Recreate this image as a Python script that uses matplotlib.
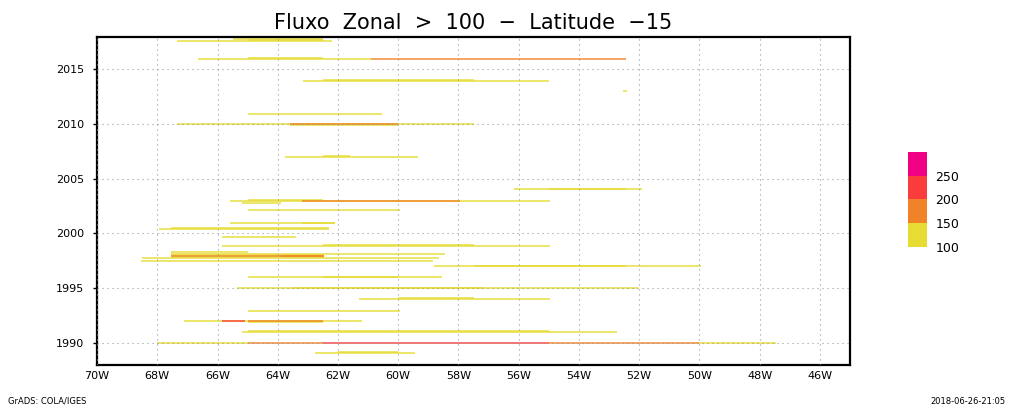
import numpy as np
import matplotlib as mpl
import matplotlib.pyplot as plt
from matplotlib.colors import ListedColormap, BoundaryNorm

# shading levels (GrADS default colours 12, 8, 2, 6)
levels = [100, 150, 200, 250, 300]
level_colors = ['#e6dc32', '#f08228', '#fa3c3c', '#f00082']

# segments where zonal flux > 100: time (decimal year), lon start, lon end, value
seg_year = [2017.68, 2017.61, 2017.55,
            2015.95, 2015.91, 2015.91,
            2013.95, 2013.91, 2013.0,
            2010.91,
            2009.98, 2009.95, 2009.91,
            2007.05, 2007.0,
            2004.03, 2004.0,
            2003.03, 2002.95, 2002.95, 2002.8,
            2002.09,
            2000.95, 2000.91,
            2000.45, 2000.41,
            1999.66,
            1998.9, 1998.86,
            1998.27, 1998.09, 1998.0, 1997.91, 1997.91, 1997.82, 1997.73, 1997.45,
            1997.03, 1997.0,
            1996.06, 1996.03,
            1995.03, 1995.0,
            1994.1, 1994.06,
            1992.95,
            1992.05, 1992.0, 1992.0, 1991.95,
            1991.06, 1991.03,
            1989.97, 1989.97, 1989.97, 1989.97, 1989.97,
            1989.15, 1989.12]
seg_lon0 = [-65.5, -65.0, -67.35,
            -65.0, -66.65, -60.9,
            -62.5, -63.15, -52.55,
            -65.0,
            -63.6, -67.35, -63.6,
            -62.5, -63.75,
            -55.0, -56.15,
            -65.0, -65.6, -63.2, -65.2,
            -65.0,
            -63.2, -65.6,
            -67.55, -67.95,
            -65.85,
            -62.5, -65.85,
            -67.55, -67.55, -67.55, -67.55, -63.9, -67.55, -68.5, -68.55,
            -57.5, -58.8,
            -62.5, -65.0,
            -63.5, -65.35,
            -60.0, -61.3,
            -65.0,
            -65.0, -67.1, -65.85, -65.0,
            -65.0, -65.2,
            -68.0, -65.0, -62.5, -55.0, -50.0,
            -62.0, -62.75]
seg_lon1 = [-62.5, -62.5, -62.2,
            -62.5, -60.9, -52.45,
            -57.5, -55.0, -52.4,
            -60.55,
            -60.0, -57.5, -60.0,
            -61.6, -59.35,
            -52.45, -51.9,
            -62.5, -54.95, -57.95, -63.9,
            -59.95,
            -62.1, -62.1,
            -62.3, -62.3,
            -63.4,
            -57.5, -54.95,
            -65.0, -58.45, -62.45, -62.45, -62.45, -62.45, -58.65, -58.85,
            -52.45, -49.95,
            -60.0, -58.55,
            -57.2, -52.05,
            -57.5, -54.95,
            -59.95,
            -62.5, -61.2, -65.1, -62.5,
            -55.0, -52.75,
            -65.0, -62.5, -55.0, -50.0, -47.45,
            -60.0, -59.45]
seg_val = [120, 120, 105,
           120, 110, 160,
           115, 110, 105,
           110,
           160, 110, 120,
           120, 110,
           115, 110,
           120, 110, 160, 105,
           110,
           115, 110,
           110, 110,
           110,
           115, 110,
           105, 115, 120, 160, 180, 120, 110, 110,
           115, 110,
           115, 110,
           115, 110,
           115, 110,
           110,
           160, 110, 210, 120,
           115, 110,
           102, 160, 220, 170, 105,
           115, 110]

xticks = list(range(-70, -45, 2))
xlabels = ['%dW' % (-t) for t in xticks]
yticks = [1990, 1995, 2000, 2005, 2010, 2015]

fig = plt.figure(figsize=(10.14, 4.12), dpi=100)
ax = fig.add_axes([0.0957, 0.1141, 0.7426, 0.796])

cmap = ListedColormap(level_colors)
norm = BoundaryNorm(levels, cmap.N)

yr = np.array(seg_year)
x0 = np.array(seg_lon0)
x1 = np.array(seg_lon1)
val = np.array(seg_val)
order = np.argsort(val, kind='stable')
ax.hlines(yr[order], x0[order], x1[order], colors=cmap(norm(val[order])),
          lw=1.2, alpha=0.85)

ax.set_xlim(-70, -45)
ax.set_ylim(1988.0, 2017.9)
ax.set_xticks(xticks)
ax.set_xticklabels(xlabels)
ax.set_yticks(yticks)
ax.tick_params(labelsize=8, length=3, width=1, direction='out', pad=6)
ax.tick_params(axis='x', length=0, pad=4)
ax.grid(True, linestyle=(0, (1, 3.5)), color='#9a9a9a', lw=0.8)
ax.set_axisbelow(False)
for s in ax.spines.values():
    s.set_linewidth(1.6)

ax.set_title('Fluxo  Zonal  >  100  \u2212  Latitude  \u221215', fontsize=15, pad=6)

cax = fig.add_axes([0.8955, 0.4005, 0.0187, 0.2306])
cb = mpl.colorbar.ColorbarBase(cax, cmap=cmap, norm=norm, boundaries=levels,
                               ticks=levels[:-1])
cb.outline.set_visible(False)
cax.minorticks_off()
cax.tick_params(which='both', length=0, labelsize=9, pad=6)

fig.text(0.008, 0.015, 'GrADS: COLA/IGES', fontsize=6, ha='left', va='bottom')
fig.text(0.992, 0.015, '2018-06-26-21:05', fontsize=6, ha='right', va='bottom')

plt.savefig('out.png', dpi=100)
